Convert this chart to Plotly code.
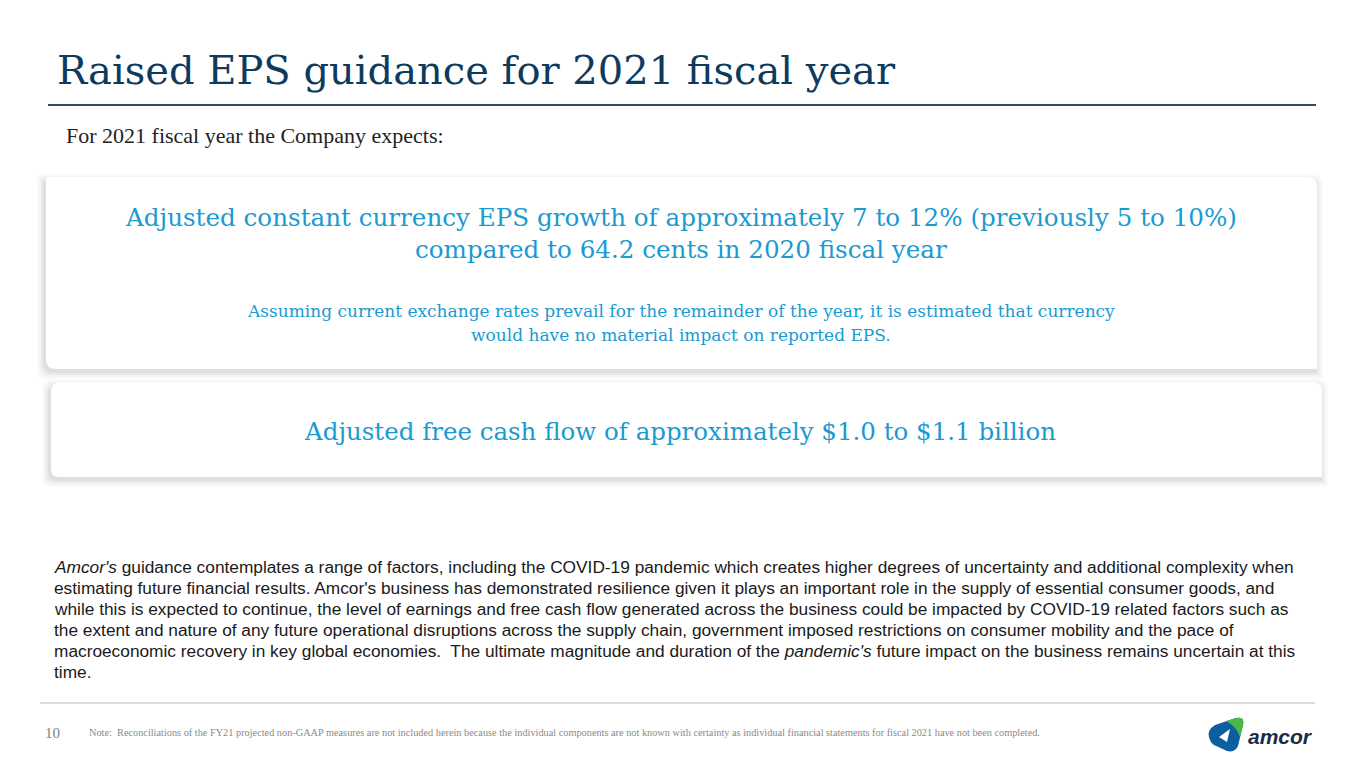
import plotly.graph_objects as go

# slide text
title = 'Raised EPS guidance for 2021 fiscal year'
subtitle = 'For 2021 fiscal year the Company expects:'
eps_lines = [
    'Adjusted constant currency EPS growth of approximately 7 to 12% (previously 5 to 10%)',
    'compared to 64.2 cents in 2020 fiscal year',
]
fx_lines = [
    'Assuming current exchange rates prevail for the remainder of the year, it is estimated that currency',
    'would have no material impact on reported EPS.',
]
fcf_line = 'Adjusted free cash flow of approximately $1.0 to $1.1 billion'
body_lines = [
    "<i>Amcor's</i> guidance contemplates a range of factors, including the COVID-19 pandemic which creates higher degrees of uncertainty and additional complexity when",
    "estimating future financial results. Amcor's business has demonstrated resilience given it plays an important role in the supply of essential consumer goods, and",
    "while this is expected to continue, the level of earnings and free cash flow generated across the business could be impacted by COVID-19 related factors such as",
    "the extent and nature of any future operational disruptions across the supply chain, government imposed restrictions on consumer mobility and the pace of",
    "macroeconomic recovery in key global economies.  The ultimate magnitude and duration of the <i>pandemic's</i> future impact on the business remains uncertain at this",
    "time.",
]
page_no = '10'
note = ('Note:  Reconciliations of the FY21 projected non-GAAP measures are not included herein because the individual '
        'components are not known with certainty as individual financial statements for fiscal 2021 have not been completed.')

NAVY = '#0d3b5e'
BLUE = '#1a9ad2'
SERIF = 'Liberation Serif'
WIDE_SERIF = 'DejaVu Serif'
SANS = 'Liberation Sans'

# the page body adds an 8px margin, so the figure is drawn 8px smaller
W, H, PAD = 1365, 768, 8


def rounded_box(x0, y0, x1, y1, r_tl, r_tr, r_br, r_bl):
    # y grows downward (axis reversed)
    return (f'M {x0 + r_tl},{y0} L {x1 - r_tr},{y0} Q {x1},{y0} {x1},{y0 + r_tr} '
            f'L {x1},{y1 - r_br} Q {x1},{y1} {x1 - r_br},{y1} '
            f'L {x0 + r_bl},{y1} Q {x0},{y1} {x0},{y1 - r_bl} '
            f'L {x0},{y0 + r_tl} Q {x0},{y0} {x0 + r_tl},{y0} Z')


def card(x0, y0, x1, y1, radii):
    shapes = []
    # soft shadow, a few layers
    for g, op in [(6, 0.03), (4, 0.04), (2, 0.05), (0, 0.07)]:
        shapes.append(dict(type='path', xref='x', yref='y',
                           path=rounded_box(x0 - 3 - g, y0 + 3 - g, x1 + g, y1 + 4 + g, *radii),
                           fillcolor=f'rgba(80,80,80,{op})', line=dict(width=0), layer='below'))
    shapes.append(dict(type='path', xref='x', yref='y', path=rounded_box(x0, y0, x1, y1, *radii),
                       fillcolor='white', line=dict(width=0), layer='below'))
    return shapes


fig = go.Figure()

shapes = []
shapes += card(46, 177, 1317, 369, (3, 10, 0, 10))
shapes += card(51, 382, 1322, 477, (10, 10, 0, 8))

# title rule and footer rule
shapes.append(dict(type='line', xref='x', yref='y', x0=48, x1=1316, y0=105, y1=105,
                   line=dict(color='#24506f', width=2)))
shapes.append(dict(type='line', xref='x', yref='y', x0=40, x1=1315, y0=703, y1=703,
                   line=dict(color='#dcdcdc', width=2)))

# amcor mark
shapes.append(dict(type='path', xref='x', yref='y',
                   path='M 1209,737 Q 1207,730 1215,725 L 1236,718 Q 1245,716 1243,725 '
                        'L 1238,746 Q 1235,753 1227,751 L 1214,745 Q 1210,742 1209,737 Z',
                   fillcolor='#0b5f9e', line=dict(width=0)))
shapes.append(dict(type='path', xref='x', yref='y',
                   path='M 1226,721 L 1236,718 Q 1245,716 1243,725 L 1240,737 Q 1236,726 1226,721 Z',
                   fillcolor='#4cb648', line=dict(width=0)))
shapes.append(dict(type='path', xref='x', yref='y',
                   path='M 1219,737 L 1230,729 L 1227,742 Z',
                   fillcolor='white', line=dict(width=0)))

ann = []


def txt(x, y, s, size, color, family, anchor='left'):
    ann.append(dict(x=x, y=y, xref='x', yref='y', text=s, showarrow=False, xanchor=anchor, yanchor='middle',
                    font=dict(size=size, color=color, family=family)))


txt(55, 70, title, 40, NAVY, WIDE_SERIF)
txt(64, 135, subtitle, 22, '#222222', SERIF)
for i, line in enumerate(eps_lines):
    txt(681, 217 + i * 32, line, 24.6, BLUE, WIDE_SERIF, 'center')
for i, line in enumerate(fx_lines):
    txt(681, 311 + i * 24, line, 17, BLUE, WIDE_SERIF, 'center')
txt(680, 431, fcf_line, 24.5, BLUE, WIDE_SERIF, 'center')
for i, line in enumerate(body_lines):
    txt(52, 567 + i * 21, line, 17.3, '#1a1a1a', SANS)
txt(43, 733, page_no, 15, '#808080', SERIF)
txt(87, 732, note, 10.3, '#8a8a8a', SERIF)
txt(1246, 736, '<i><b>amcor</b></i>', 21, '#1b2b45', SANS)

fig.update_layout(
    width=W - PAD, height=H - PAD,
    margin=dict(l=0, r=0, t=0, b=0),
    paper_bgcolor='white', plot_bgcolor='white',
    xaxis=dict(range=[PAD, W], visible=False, fixedrange=True),
    yaxis=dict(range=[H, PAD], visible=False, fixedrange=True),
    shapes=shapes, annotations=ann, showlegend=False,
)

fig.write_html('out.html')
